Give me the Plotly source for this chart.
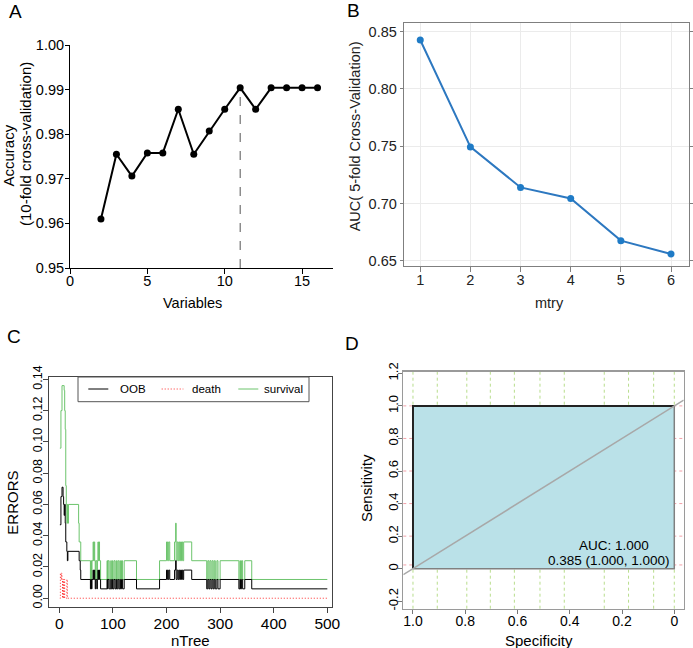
import plotly.graph_objects as go

W, H = 693, 648
FONT = "Liberation Sans, Arial, Helvetica, sans-serif"

# ---------------- Panel A data ----------------
a_vars = [2, 3, 4, 5, 6, 7, 8, 9, 10, 11, 12, 13, 14, 15, 16]
a_acc = [0.9610, 0.9755, 0.9706, 0.9758, 0.9758, 0.9856, 0.9755, 0.9807,
         0.9856, 0.9904, 0.9856, 0.9904, 0.9904, 0.9904, 0.9904]
a_best = 11
a_xticks = [0, 5, 10, 15]
a_yticks = [0.95, 0.96, 0.97, 0.98, 0.99, 1.00]

# ---------------- Panel B data ----------------
b_mtry = [1, 2, 3, 4, 5, 6]
b_auc = [0.8428, 0.7494, 0.7140, 0.7044, 0.6675, 0.6559]
b_yticks = [0.65, 0.70, 0.75, 0.80, 0.85]

# ---------------- Panel C data (step change points) ----------------
c_oob_early_tree = [1, 3, 5, 7, 8, 9, 10, 11, 12, 14, 15, 16, 37, 39, 40]
c_oob_early_val = [0.047, 0.065, 0.071, 0.065, 0.060, 0.053, 0.060, 0.048,
                   0.036, 0.030, 0.024, 0.030, 0.024, 0.018, 0.012]
c_surv_early_tree = [1, 3, 5, 9, 10, 11, 12, 13, 14, 15, 16, 17, 36, 37, 40]
c_surv_early_val = [0.096, 0.120, 0.136, 0.133, 0.120, 0.108, 0.072, 0.060,
                    0.048, 0.060, 0.048, 0.060, 0.048, 0.036, 0.024]
c_mid_tree = [58, 59, 60, 61, 63, 64, 65, 66, 67, 68, 70, 71, 72, 73, 74, 75, 77,
              89, 90, 91, 93, 96, 97, 99, 100, 102, 104, 106, 107, 109, 111, 113,
              114, 116, 118, 121, 144, 187, 200, 202, 204, 206, 215, 217, 218,
              220, 222, 224, 226, 228, 230, 232, 247, 275, 277, 279, 281, 283,
              285, 287, 289, 291, 294, 296, 300, 335, 337, 338, 340, 342, 346,
              359, 500]
c_mid_surv = [0.012, 0.024, 0.012, 0.024, 0.036, 0.024, 0.036, 0.024, 0.012, 0.024,
              0.012, 0.024, 0.036, 0.024, 0.036, 0.024, 0.012,
              0.024, 0.012, 0.024, 0.012, 0.024, 0.012, 0.024, 0.012, 0.024, 0.012,
              0.024, 0.012, 0.024, 0.012, 0.024, 0.012, 0.024, 0.012, 0.024,
              0.012, 0.024, 0.036, 0.024, 0.036, 0.024, 0.036, 0.048, 0.024,
              0.036, 0.024, 0.036, 0.024, 0.036, 0.024, 0.036, 0.024, 0.012,
              0.024, 0.012, 0.024, 0.012, 0.024, 0.012, 0.024, 0.012, 0.024,
              0.012, 0.024, 0.012, 0.024, 0.012, 0.024, 0.012, 0.024, 0.012, 0.012]
c_mid_oob = [0.006, 0.012, 0.006, 0.012, 0.018, 0.012, 0.018, 0.012, 0.006, 0.012,
             0.006, 0.012, 0.018, 0.012, 0.018, 0.012, 0.006,
             0.012, 0.006, 0.012, 0.006, 0.012, 0.006, 0.012, 0.006, 0.012, 0.006,
             0.012, 0.006, 0.012, 0.006, 0.012, 0.006, 0.012, 0.006, 0.012,
             0.006, 0.012, 0.018, 0.012, 0.018, 0.012, 0.018, 0.024, 0.012,
             0.018, 0.012, 0.018, 0.012, 0.018, 0.012, 0.018, 0.012, 0.006,
             0.012, 0.006, 0.012, 0.006, 0.012, 0.006, 0.012, 0.006, 0.012,
             0.006, 0.012, 0.006, 0.012, 0.006, 0.012, 0.006, 0.012, 0.006, 0.006]
c_death_tree = [1, 2, 3, 4, 5, 6, 7, 8, 9, 10, 14, 15, 500]
c_death_val = [0.000, 0.016, 0.012, 0.016, 0.012, 0.000, 0.012, 0.000, 0.012,
               0.000, 0.012, 0.000, 0.000]
c_xticks = [0, 100, 200, 300, 400, 500]
c_yticks = [0.00, 0.02, 0.04, 0.06, 0.08, 0.10, 0.12, 0.14]
c_names = ["OOB", "death", "survival"]

# ---------------- Panel D data ----------------
d_spec = [1.0, 1.0, 0.0]
d_sens = [0.0, 1.0, 1.0]
d_auc = 1.000
d_thr = 0.385
d_best = (1.000, 1.000)
d_grid_spec = [1.0, 0.907, 0.794, 0.704, 0.612, 0.514, 0.421, 0.268, 0.175, 0.079, 0.0]
d_grid_sens = [1.0, 0.8, 0.6, 0.4, 0.2, 0.023]
d_xticks = [1.0, 0.8, 0.6, 0.4, 0.2, 0.0]
d_xticktext = ["1.0", "0.8", "0.6", "0.4", "0.2", "0"]
d_yticks = [-0.2, 0.0, 0.2, 0.4, 0.6, 0.8, 1.0, 1.2]
d_yticktext = ["-0.2", "0", "0.2", "0.4", "0.6", "0.8", "1.0", "1.2"]


def xd(p0, p1):
    return [p0 / W, p1 / W]


def yd(top, bottom):
    return [1 - bottom / H, 1 - top / H]


def px(x):
    return x / W


def py(y):
    return 1 - y / H


fig = go.Figure()

# ---- A ----
fig.add_trace(go.Scatter(x=[a_best, a_best], y=[a_yticks[0], a_acc[a_vars.index(a_best)]],
                         mode="lines", line=dict(color="#555555", width=1, dash="dash"),
                         xaxis="x", yaxis="y", hoverinfo="skip"))
fig.add_trace(go.Scatter(x=a_vars, y=a_acc, mode="lines+markers",
                         line=dict(color="black", width=2),
                         marker=dict(color="black", size=7),
                         xaxis="x", yaxis="y"))

# ---- B ----
fig.add_trace(go.Scatter(x=b_mtry, y=b_auc, mode="lines+markers",
                         line=dict(color="#2D78C0", width=2),
                         marker=dict(color="#1F7BC6", size=7),
                         xaxis="x2", yaxis="y2"))

# ---- C ----
fig.add_trace(go.Scatter(x=c_surv_early_tree + c_mid_tree, y=c_surv_early_val + c_mid_surv,
                         mode="lines", line=dict(color="#6CC46C", width=1, shape="hv"),
                         name=c_names[2], xaxis="x3", yaxis="y3"))
fig.add_trace(go.Scatter(x=c_oob_early_tree + c_mid_tree, y=c_oob_early_val + c_mid_oob,
                         mode="lines", line=dict(color="black", width=1, shape="hv"),
                         name=c_names[0], xaxis="x3", yaxis="y3"))
fig.add_trace(go.Scatter(x=c_death_tree, y=c_death_val,
                         mode="lines",
                         line=dict(color="#FF2A2A", width=1, shape="hv", dash="1px,2px"),
                         name=c_names[1], xaxis="x3", yaxis="y3"))

# ---- D ----
D_XR = [1.037, -0.036]
D_YR = [-0.2457, 1.21]
poly_x = d_spec + [d_spec[-1], d_spec[0]]
poly_y = d_sens + [0.0, d_sens[0]]
fig.add_trace(go.Scatter(x=poly_x, y=poly_y, mode="lines", fill="toself",
                         fillcolor="#BAE1E8", line=dict(color="#808080", width=1.5),
                         xaxis="x4", yaxis="y4", hoverinfo="skip"))
fig.add_trace(go.Scatter(x=d_spec, y=d_sens, mode="lines",
                         line=dict(color="#222222", width=2),
                         xaxis="x4", yaxis="y4"))
diag_x = [D_XR[0], D_XR[1]]
diag_y = [1 - v for v in diag_x]
fig.add_trace(go.Scatter(x=diag_x, y=diag_y, mode="lines",
                         line=dict(color="#A8A8A8", width=1.5),
                         xaxis="x4", yaxis="y4", hoverinfo="skip"))

tickfont_a = dict(family=FONT, size=14.5, color="black")

layout = dict(
    width=W, height=H, margin=dict(l=0, r=0, t=0, b=0, pad=0, autoexpand=False),
    paper_bgcolor="white", plot_bgcolor="white", showlegend=False,
    font=dict(family=FONT, color="black"),
    # A
    xaxis=dict(domain=xd(70, 333), range=[0, 17], anchor="y", automargin=False,
               showline=True, linecolor="black", linewidth=1,
               ticks="outside", ticklen=5, tickcolor="black", ticklabelstandoff=-5,
               tickvals=a_xticks, showgrid=False, zeroline=False, tickfont=tickfont_a),
    yaxis=dict(domain=yd(45, 268), range=[0.95, 1.0], anchor="x", automargin=False,
               showline=True, linecolor="black", linewidth=1,
               ticks="outside", ticklen=4, tickcolor="black", ticklabelstandoff=-2,
               tickvals=a_yticks, tickformat=".2f", showgrid=False, zeroline=False,
               tickfont=tickfont_a),
    # B
    xaxis2=dict(domain=xd(403.7, 689.3), range=[0.67, 6.365], anchor="y2", automargin=False,
                showline=True, mirror=True, linecolor="#7f7f7f", linewidth=1,
                ticks="outside", ticklen=5, tickcolor="#7f7f7f", ticklabelstandoff=-4,
                tickvals=b_mtry, showgrid=True, gridcolor="#EBEBEB", zeroline=False,
                tickfont=dict(family=FONT, size=14.5, color="#222222")),
    yaxis2=dict(domain=yd(22.7, 265.7), range=[0.6456, 0.8579], anchor="x2", automargin=False,
                showline=True, mirror="ticks", linecolor="#7f7f7f", linewidth=1,
                ticks="outside", ticklen=3, tickcolor="#7f7f7f",
                tickvals=b_yticks, tickformat=".2f", showgrid=True, gridcolor="#EBEBEB",
                zeroline=False, tickfont=dict(family=FONT, size=14.5, color="#222222")),
    # C
    xaxis3=dict(domain=xd(49.3, 332.3), range=[-18.7, 509.3], anchor="y3", automargin=False,
                showline=True, mirror=True, linecolor="#444444", linewidth=1,
                ticks="outside", ticklen=5, tickcolor="#444444", ticklabelstandoff=-3,
                tickvals=c_xticks, showgrid=False, zeroline=False,
                tickfont=dict(family=FONT, size=15.5, color="black")),
    yaxis3=dict(domain=yd(376.7, 607.3), range=[-0.0058, 0.1417], anchor="x3", automargin=False,
                showline=True, mirror=True, linecolor="#444444", linewidth=1,
                ticks="outside", ticklen=5, tickcolor="#444444", ticklabelstandoff=-4,
                tickvals=c_yticks, tickformat=".2f", tickangle=-90,
                showgrid=False, zeroline=False,
                tickfont=dict(family=FONT, size=12.5, color="black")),
    # D
    xaxis4=dict(domain=xd(403.3, 683.7), range=D_XR, anchor="y4", automargin=False,
                showline=True, mirror=True, linecolor="#9A9A9A", linewidth=1.5,
                ticks="outside", ticklen=4, tickcolor="#777777", ticklabelstandoff=-5,
                tickvals=d_xticks, ticktext=d_xticktext, showgrid=False, zeroline=False,
                tickfont=dict(family=FONT, size=14, color="black")),
    yaxis4=dict(domain=yd(371.7, 608.7), range=D_YR, anchor="x4", automargin=False,
                showline=True, mirror=True, linecolor="#9A9A9A", linewidth=1.5,
                ticks="outside", ticklen=4, tickcolor="#777777", ticklabelstandoff=-5,
                tickvals=d_yticks, ticktext=d_yticktext, tickangle=-90,
                showgrid=False, zeroline=False,
                tickfont=dict(family=FONT, size=13, color="black")),
)

shapes = []
# D grid lines
for s in d_grid_spec:
    shapes.append(dict(type="line", xref="x4", yref="y4 domain", x0=s, x1=s, y0=0, y1=1,
                       line=dict(color="#B8DD8C", width=1, dash="dot"), layer="below"))
for s in d_grid_sens:
    shapes.append(dict(type="line", xref="x4 domain", yref="y4", x0=0, x1=1, y0=s, y1=s,
                       line=dict(color="#F2A0A8", width=1, dash="dot"), layer="below"))

# C legend
shapes.append(dict(type="rect", xref="paper", yref="paper",
                   x0=px(78), x1=px(309), y0=py(401.7), y1=py(377),
                   line=dict(color="#555555", width=1), fillcolor="white", layer="above"))
leg_items = [
    (88.3, 108.3, "black", "solid", 118.3, c_names[0]),
    (161.7, 183.3, "#FF2A2A", "1px,2px", 190, c_names[1]),
    (238.3, 258.3, "#6CC46C", "solid", 262, c_names[2]),
]
annotations = []
for x0, x1, col, dash, tx, name in leg_items:
    shapes.append(dict(type="line", xref="paper", yref="paper", x0=px(x0), x1=px(x1),
                       y0=py(389), y1=py(389), line=dict(color=col, width=1, dash=dash),
                       layer="above"))
    annotations.append(dict(text=name, xref="paper", yref="paper", x=px(tx), y=py(389),
                            xanchor="left", yanchor="middle", showarrow=False,
                            font=dict(family=FONT, size=11.5, color="black")))

layout["shapes"] = shapes


def ann(text, x, y, size, angle=0, color="black"):
    annotations.append(dict(text=text, xref="paper", yref="paper", x=px(x), y=py(y),
                            xanchor="center", yanchor="middle", showarrow=False,
                            textangle=angle, font=dict(family=FONT, size=size, color=color)))


# panel letters
ann("A", 15, 12, 19)
ann("B", 353, 11, 19)
ann("C", 14, 336, 19)
ann("D", 352, 343, 19)
# A titles
ann("Accuracy", 8.5, 156, 15, -90)
ann("(10-fold cross-validation)", 25, 144, 15, -90)
ann("Variables", 192.7, 303, 14.5)
# B titles
ann("AUC( 5-fold Cross-Validation)", 355.3, 136, 14.5, -90, "#222222")
ann("mtry", 549.3, 303, 14.5, 0, "#222222")
# C titles
ann("ERRORS", 11.7, 503, 15, -90)
ann("nTree", 191, 640, 15)
# D titles
ann("Sensitivity", 366, 488, 15, -90)
ann("Specificity", 539.3, 640, 15)
# D text
annotations.append(dict(text=f"AUC: {d_auc:.3f}", xref="x4", yref="y4", x=0.23, y=0.141,
                        xanchor="center", yanchor="middle", showarrow=False,
                        font=dict(family=FONT, size=13.5, color="black")))
annotations.append(dict(text=f"{d_thr:.3f} ({d_best[0]:.3f}, {d_best[1]:.3f})",
                        xref="x4", yref="y4", x=0.249, y=0.049,
                        xanchor="center", yanchor="middle", showarrow=False,
                        font=dict(family=FONT, size=13.5, color="black")))
layout["annotations"] = annotations

fig.update_layout(**layout)
fig.write_html("out.html",
               config={"displayModeBar": False, "staticPlot": True},
               post_script="document.body.style.margin='0px';"
                           "document.body.style.padding='0px';"
                           "document.body.style.overflow='hidden';")
